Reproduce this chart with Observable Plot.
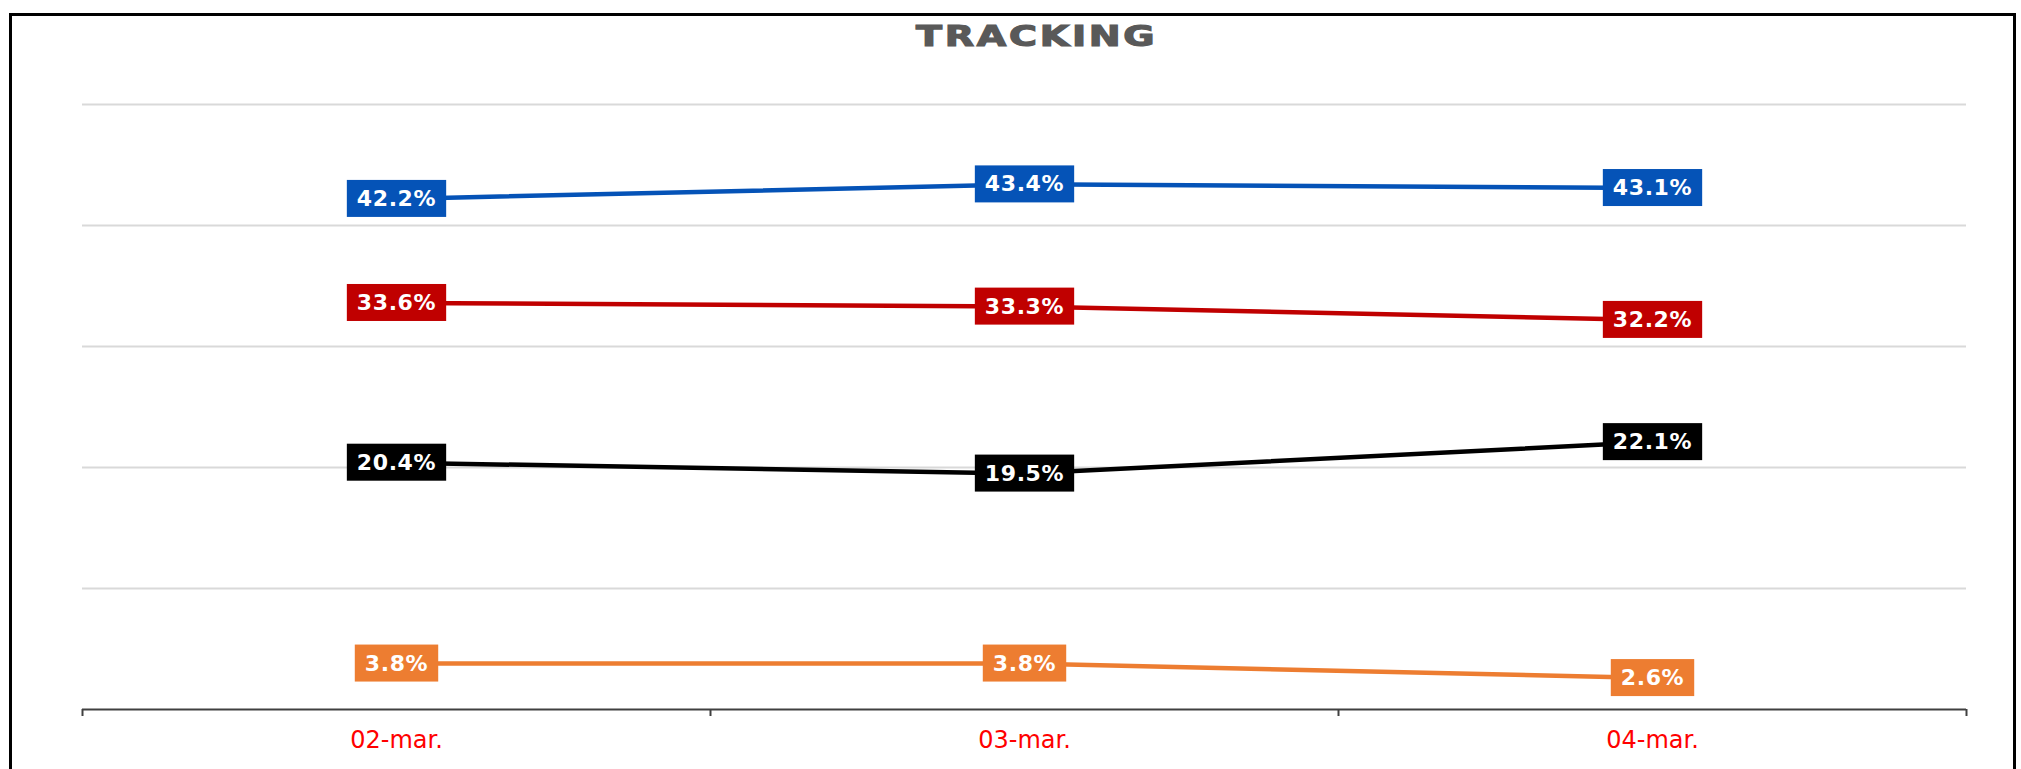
<!DOCTYPE html>
<html>
<head>
<meta charset="utf-8">
<script src="https://cdn.jsdelivr.net/npm/d3@7"></script>
<script src="https://cdn.jsdelivr.net/npm/@observablehq/plot@0.6"></script>
<style>
  html, body { margin: 0; padding: 0; background: #fff; width: 2021px; height: 769px; overflow: hidden; }
  #frame { position: absolute; left: 9px; top: 13px; width: 2001px; height: 800px; border: 3px solid #000; border-bottom: none; pointer-events: none; }
  #title { position: absolute; left: 0; width: 2074px; top: 23px; text-align: center; }
  #title span { display: inline-block; transform: scale(1.36, 1); font-family: "DejaVu Sans", sans-serif; font-weight: bold; font-size: 28px; line-height: 28px; letter-spacing: 2px; color: #595959; -webkit-text-stroke: 1.2px #595959; }
  #chart { position: absolute; left: 0; top: 0; }
</style>
</head>
<body>
<div id="chart"></div>
<div id="title"><span>TRACKING</span></div>
<div id="frame"></div>
<script>
const dates = ["02-mar.", "03-mar.", "04-mar."];
const blueValues = [42.2, 43.4, 43.1];
const redValues = [33.6, 33.3, 32.2];
const blackValues = [20.4, 19.5, 22.1];
const orangeValues = [3.8, 3.8, 2.6];
const seriesColors = ["#0553B7", "#C00000", "#000000", "#ED7D31"];
const gridTicks = [10, 20, 30, 40, 50];
const bandEdges = [0, 1, 2, 3];

const allSeries = [blueValues, redValues, blackValues, orangeValues].map((values, s) => ({
  color: seriesColors[s],
  rows: dates.map((d, i) => ({date: d, x: i + 0.5, value: values[i]}))
}));
const dateRows = dates.map((d, i) => ({date: d, x: i + 0.5}));

const marks = [
  Plot.ruleY(gridTicks, {stroke: "#d9d9d9", strokeWidth: 2}),
  Plot.ruleY([0], {stroke: "#404040", strokeWidth: 2}),
  Plot.axisX(bandEdges, {tickSize: 7, tickFormat: () => "", label: null, stroke: "#404040", strokeWidth: 2}),
  Plot.text(dateRows, {x: "x", y: () => 0, text: "date", dy: 31, fill: "#FF0000", fontSize: 24, lineAnchor: "middle"})
];
allSeries.forEach((s, k) => {
  marks.push(Plot.line(s.rows, {x: "x", y: "value", stroke: s.color, strokeWidth: 4.5}));
});
allSeries.forEach((s, k) => {
  marks.push(Plot.text(s.rows, {x: "x", y: "value", text: d => d.value.toFixed(1) + "%", fill: "white", fontSize: 22, fontWeight: "bold", className: "lbl" + k}));
});

const chart = Plot.plot({
  width: 2021,
  height: 769,
  marginTop: 104,
  marginBottom: 60,
  marginLeft: 82,
  marginRight: 55,
  style: {fontFamily: "'DejaVu Sans', sans-serif", background: "transparent"},
  x: {type: "linear", domain: [0, 3], axis: null, label: null},
  y: {domain: [0, 50], axis: null},
  marks
});
document.getElementById("chart").appendChild(chart);

const ns = "http://www.w3.org/2000/svg";
allSeries.forEach((s, k) => {
  chart.querySelectorAll(".lbl" + k + " text").forEach(t => {
    if (t.previousSibling && t.previousSibling.dataset && t.previousSibling.dataset.box) return;
    t.setAttribute("letter-spacing", "0.6");
    const b = t.getBBox();
    const r = document.createElementNS(ns, "rect");
    const h = 37;
    r.setAttribute("x", b.x - 10);
    r.setAttribute("width", b.width + 20);
    r.setAttribute("y", b.y + b.height / 2 - h / 2);
    r.setAttribute("height", h);
    r.setAttribute("fill", s.color);
    r.dataset.box = "1";
    if (t.getAttribute("transform")) r.setAttribute("transform", t.getAttribute("transform"));
    t.parentNode.insertBefore(r, t);
  });
});
</script>
</body>
</html>
